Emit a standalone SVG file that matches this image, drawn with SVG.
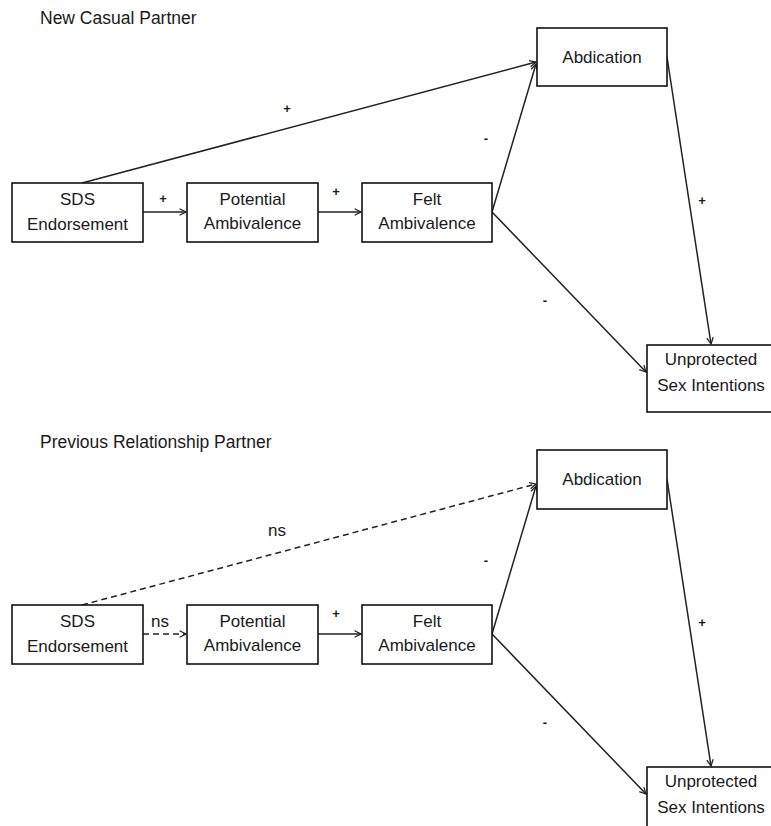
<svg xmlns="http://www.w3.org/2000/svg" width="771" height="826" viewBox="0 0 771 826">
<style>
text{font-family:"Liberation Sans",Arial,sans-serif;fill:#1a1a1a}
.t{font-size:17.5px}
.n{font-size:17px;text-anchor:middle}
.s{font-size:13px;text-anchor:middle;font-weight:bold}
.ns{font-size:17px;text-anchor:middle}
rect{fill:#fff;stroke:#111;stroke-width:1.6}
.c line{stroke:#222;stroke-width:1.5;marker-end:url(#ah)}
.c line.d{stroke-dasharray:6,4}
</style>
<defs>
<marker id="ah" viewBox="0 0 10 10" refX="9" refY="5" markerWidth="8" markerHeight="8" markerUnits="userSpaceOnUse" orient="auto">
<path d="M1,1 L9,5 L1,9" fill="none" stroke="#222" stroke-width="1.6"/>
</marker>
</defs>
<rect x="0" y="0" width="771" height="826" style="fill:#fff;stroke:none"/>

<text class="t" x="40" y="24">New Casual Partner</text>
<g class="c" id="conn1">
<line x1="82" y1="183" x2="536" y2="62"/>
<line x1="143" y1="212" x2="186" y2="212"/>
<line x1="318" y1="212" x2="361" y2="212"/>
<line x1="492" y1="212" x2="536" y2="64"/>
<line x1="492" y1="212" x2="646" y2="372"/>
<line x1="667" y1="57" x2="711" y2="344"/>
</g>
<text class="s" x="163" y="203">+</text>
<text class="s" x="336" y="196">+</text>
<text class="s" x="287" y="113">+</text>
<text class="s" x="486" y="143">-</text>
<text class="s" x="702" y="205">+</text>
<text class="s" x="545" y="305">-</text>
<g id="sds1"><rect x="12" y="183" width="131" height="59"/><text class="n" x="77.5" y="205">SDS</text><text class="n" x="77.5" y="230">Endorsement</text></g>
<g id="pot1"><rect x="187" y="183" width="131" height="59"/><text class="n" x="252.5" y="205">Potential</text><text class="n" x="252.5" y="229">Ambivalence</text></g>
<g id="felt1"><rect x="362" y="183" width="130" height="59"/><text class="n" x="427" y="205">Felt</text><text class="n" x="427" y="229">Ambivalence</text></g>
<g id="abd1"><rect x="537" y="28" width="130" height="58"/><text class="n" x="602" y="63">Abdication</text></g>
<g id="ups1"><rect x="647" y="345" width="128" height="67"/><text class="n" x="711" y="365">Unprotected</text><text class="n" x="711" y="391">Sex Intentions</text></g>

<text class="t" x="40" y="448">Previous Relationship Partner</text>
<g class="c" id="conn2">
<line class="d" x1="82" y1="605" x2="536" y2="484"/>
<line class="d" x1="143" y1="634" x2="186" y2="634"/>
<line x1="318" y1="634" x2="361" y2="634"/>
<line x1="492" y1="634" x2="536" y2="486"/>
<line x1="492" y1="634" x2="646" y2="794"/>
<line x1="667" y1="479" x2="711" y2="766"/>
</g>
<text class="ns" x="160" y="627">ns</text>
<text class="s" x="336" y="618">+</text>
<text class="ns" x="277" y="536">ns</text>
<text class="s" x="486" y="565">-</text>
<text class="s" x="702" y="627">+</text>
<text class="s" x="545" y="727">-</text>
<g id="sds2"><rect x="12" y="605" width="131" height="59"/><text class="n" x="77.5" y="627">SDS</text><text class="n" x="77.5" y="652">Endorsement</text></g>
<g id="pot2"><rect x="187" y="605" width="131" height="59"/><text class="n" x="252.5" y="627">Potential</text><text class="n" x="252.5" y="651">Ambivalence</text></g>
<g id="felt2"><rect x="362" y="605" width="130" height="59"/><text class="n" x="427" y="627">Felt</text><text class="n" x="427" y="651">Ambivalence</text></g>
<g id="abd2"><rect x="537" y="450" width="130" height="59"/><text class="n" x="602" y="485">Abdication</text></g>
<g id="ups2"><rect x="647" y="767" width="128" height="67"/><text class="n" x="711" y="787">Unprotected</text><text class="n" x="711" y="813">Sex Intentions</text></g>
</svg>
